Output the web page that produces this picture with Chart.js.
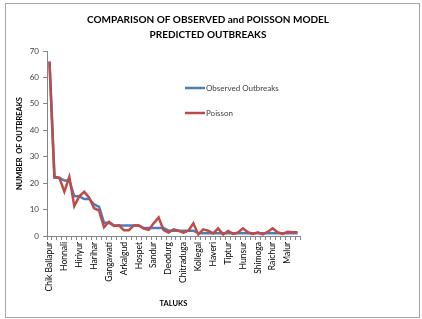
<!DOCTYPE html>
<html>
<head>
<meta charset="utf-8">
<script src="https://cdn.jsdelivr.net/npm/chart.js@4.4.1/dist/chart.umd.min.js"></script>
<style>
  html, body { margin: 0; padding: 0; background: #fff; }
  #wrap { width: 422px; height: 319px; position: relative; }
</style>
</head>
<body>
<div id="wrap"><canvas id="outbreakChart" width="422" height="319"></canvas></div>
<script>
// Taluks (only every third name is shown on the axis, as in the original)
const taluks = [
  'Chik Ballapur', 'Gauribidanur', 'Bagepalli', 'Honnali', 'Channagiri', 'Davangere',
  'Hiriyur', 'Challakere', 'Holalkere', 'Harihar', 'Jagalur', 'Hosadurga',
  'Gangawati', 'Koppal', 'Sindhanur', 'Arkalgud', 'Arsikere', 'Hassan',
  'Hospet', 'Kudligi', 'Siruguppa', 'Sandur', 'Bellary', 'Manvi',
  'Deodurg', 'Lingsugur', 'Molakalmuru', 'Chitraduga', 'Chamarajanagar', 'Gundlupet',
  'Kollegal', 'Hirekerur', 'Ranebennur', 'Haveri', 'Gubbi', 'Tumkur',
  'Tiptur', 'Periyapatna', 'K.R.Nagar', 'Hunsur', 'Bhadravati', 'Sagar',
  'Shimoga', 'Yelburga', 'Shorapur', 'Raichur', 'Kolar', 'Mulbagal',
  'Malur', 'Bangarpet', 'Srinivaspur'
];

const observed = [
  66, 22, 22, 21, 21, 15, 15, 14, 14, 12, 11, 5, 5, 4, 4, 4, 4, 4,
  4, 3, 3, 3, 3, 3, 2, 2, 2, 2, 2, 2, 1, 1, 1, 1, 1, 1,
  1, 1, 1, 1, 1, 1, 1, 1, 1, 1, 1, 1, 1, 1, 1
];

const poisson = [
  66, 22.4, 22, 16.8, 22.4, 11.3, 15, 16.7, 14.5, 10.5, 9.6, 3.3, 5.4, 3.8, 4, 2.2, 2.2, 4,
  4, 2.8, 2.3, 4.8, 7, 2.2, 1.3, 2.5, 2, 1.3, 2, 4.8, 0.6, 2.5, 2, 1, 2.9, 0.6,
  1.9, 0.8, 1.3, 2.9, 1.4, 0.8, 1.4, 0.6, 1.6, 2.9, 1.4, 0.8, 1.6, 1.4, 1.4
];

const yTicks = [0, 10, 20, 30, 40, 50, 60, 70];

const titleLines = ['COMPARISON OF OBSERVED and POISSON MODEL', 'PREDICTED OUTBREAKS'];

const FONT = 'Lato, "Open Sans", sans-serif';

// frame round the whole chart, plus the centred two-line title
const framePlugin = {
  id: 'frame',
  beforeDraw(chart) {
    const ctx = chart.ctx;
    ctx.save();
    ctx.fillStyle = '#fff';
    ctx.fillRect(0, 0, chart.width, chart.height);
    ctx.strokeStyle = '#a6a6a6';
    ctx.lineWidth = 1;
    ctx.strokeRect(5.5, 3.5, 414, 314);

    ctx.fillStyle = '#000';
    ctx.font = 'bold 10px ' + FONT;
    ctx.textAlign = 'center';
    ctx.textBaseline = 'middle';
    titleLines.forEach((t, i) => ctx.fillText(t, 208, 20 + i * 15));
    ctx.restore();
  }
};

// Excel-like legend sitting inside the plot on the right
const sideLegend = {
  id: 'sideLegend',
  afterDraw(chart) {
    const ctx = chart.ctx;
    ctx.save();
    ctx.font = '8px ' + FONT;
    ctx.textBaseline = 'middle';
    chart.data.datasets.forEach((ds, i) => {
      const y = 88 + i * 25;
      ctx.strokeStyle = ds.borderColor;
      ctx.lineWidth = 2.5;
      ctx.beginPath();
      ctx.moveTo(185, y);
      ctx.lineTo(205, y);
      ctx.stroke();
      ctx.fillStyle = '#404040';
      ctx.fillText(ds.label, 206, y);
    });
    ctx.restore();
  }
};

new Chart(document.getElementById('outbreakChart'), {
  type: 'line',
  data: {
    labels: taluks,
    datasets: [
      {
        label: 'Observed Outbreaks',
        data: observed,
        borderColor: '#4a7ebb',
        borderWidth: 2.5,
        pointRadius: 0,
        tension: 0,
        order: 1
      },
      {
        label: 'Poisson',
        data: poisson,
        borderColor: '#be4b48',
        borderWidth: 2.5,
        pointRadius: 0,
        tension: 0,
        order: 0
      }
    ]
  },
  options: {
    responsive: false,
    animation: false,
    layout: { padding: { left: 15, right: 122, top: 51, bottom: 11 } },
    plugins: {
      legend: { display: false },
      tooltip: { enabled: false },
      title: { display: false }
    },
    scales: {
      x: {
        offset: true,
        afterFit: s => { s.height = 319 - 11 - 236; },
        grid: { display: true, drawOnChartArea: false, tickLength: 4, color: '#868686', offset: true },
        border: { color: '#868686', width: 1 },
        ticks: {
          autoSkip: false,
          minRotation: 90,
          maxRotation: 90,
          padding: 2,
          color: '#000',
          font: { family: FONT, size: 8.5 },
          callback: (v, i) => (i % 3 === 0 ? taluks[i] : '')
        },
        title: {
          display: true,
          text: 'TALUKS',
          color: '#000',
          font: { family: FONT, size: 7.5, weight: 'bold' },
          padding: { top: 0, bottom: 0 }
        }
      },
      y: {
        min: 0,
        max: 70,
        afterFit: s => { s.width = 47 - 15; },
        afterBuildTicks: s => { s.ticks = yTicks.map(v => ({ value: v })); },
        grid: { display: true, drawOnChartArea: false, tickLength: 4, color: '#868686' },
        border: { color: '#868686', width: 1 },
        ticks: {
          padding: 4,
          color: '#404040',
          font: { family: FONT, size: 8 }
        },
        title: {
          display: true,
          text: 'NUMBER  OF OUTBREAKS',
          color: '#000',
          font: { family: FONT, size: 7.5, weight: 'bold' },
          padding: { top: 0, bottom: 0 }
        }
      }
    }
  },
  plugins: [framePlugin, sideLegend]
});
</script>
</body>
</html>
